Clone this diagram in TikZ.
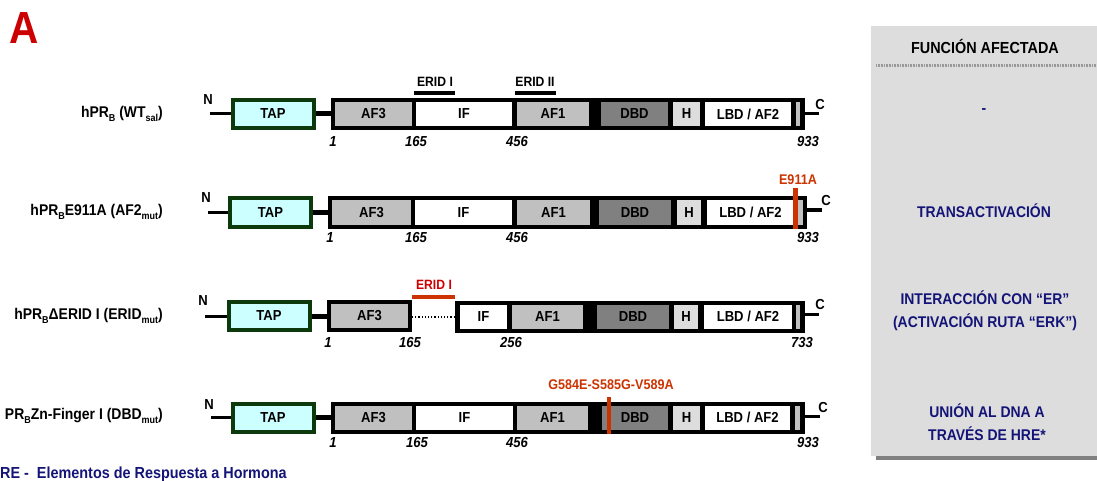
\documentclass[tikz,border=0pt]{standalone}
\usepackage{fontspec}
\setmainfont[FakeStretch=0.9]{Liberation Sans}
\definecolor{tapgreen}{HTML}{0D3A0D}
\definecolor{tapcyan}{HTML}{CCFFFF}
\definecolor{cgrey}{HTML}{C0C0C0}
\definecolor{dgrey}{HTML}{808080}
\definecolor{lgrey}{HTML}{DDDDDD}
\definecolor{mutred}{HTML}{CC3300}
\definecolor{titlered}{HTML}{CC0000}
\definecolor{navy}{HTML}{141478}
\definecolor{panel}{HTML}{DDDDDD}
\newcommand\sbs[1]{\raisebox{-0.4ex}{\fontsize{10}{10}\selectfont #1}}
\newcommand\segnode[6]{\node[segbox, fill=#5, minimum width={(#3-#2)*1pt}] (#1) at ({(#2+#3)/2},#4) {#6};}
\tikzset{
  segbox/.style={inner sep=0pt, outer sep=0pt, minimum height=24pt, font=\fontsize{14.5}{16}\selectfont\bfseries},
  barbox/.style={fill=black, inner sep=0pt, outer sep=0pt, minimum height=32pt},
  tapbox/.style={draw=tapgreen, line width=4pt, fill=tapcyan, inner sep=0pt, minimum width=81pt, minimum height=28pt, font=\fontsize{14.5}{16}\selectfont\bfseries},
  numlbl/.style={inner sep=0pt, font=\fontsize{14.5}{16}\selectfont\bfseries\itshape},
  termlbl/.style={inner sep=0pt, font=\fontsize{14.5}{16}\selectfont\bfseries},
  rowlbl/.style={inner sep=0pt, anchor=east, font=\fontsize{15.5}{17}\selectfont\bfseries},
  mutlbl/.style={inner sep=0pt, text=mutred, font=\fontsize{14}{16}\selectfont\bfseries},
  eridlbl/.style={inner sep=0pt, font=\fontsize{13.5}{15}\selectfont\bfseries},
  endline/.style={line width=3pt},
  link/.style={line width=5pt},
  mutline/.style={draw=mutred, line width=4.5pt},
  eridbar/.style={line width=3.5pt},
  paneltxt/.style={inner sep=0pt, text=navy, align=center, font=\fontsize{15.5}{22.5}\selectfont\bfseries},
}
\begin{document}
\begin{tikzpicture}[x=1pt,y=-1pt]
\useasboundingbox (0,0) rectangle (1097,481);
% title
\node[inner sep=0pt, text=titlered, font=\fontsize{45}{46}\selectfont\bfseries] (title) at (24,28) {A};

% right panel
\fill[dgrey] (876,452) rectangle (1097,460);
\node[fill=panel, inner sep=0pt, outer sep=0pt, minimum width=226pt, minimum height=430pt, anchor=north west] (panelbox) at (871,26) {};
\draw[color=gray!80, line width=2.5pt, dash pattern=on 1pt off 0.6pt] (876,65.5) -- (1097,65.5);
\node[inner sep=0pt, font=\fontsize{16}{18}\selectfont\bfseries] (head) at (985,46) {FUNCIÓN AFECTADA};
\node[paneltxt] (f1) at (984,111) {-};
\node[paneltxt] (f2) at (984,211) {TRANSACTIVACIÓN};
\node[paneltxt] (f3) at (985,310.5) {INTERACCIÓN CON “ER”\\(ACTIVACIÓN RUTA “ERK”)};
\node[paneltxt] (f4) at (987,422) {UNIÓN AL DNA A\\TRAVÉS DE HRE*};

% ===== Row 1 =====
\node[rowlbl] (lbl1) at (163,114) {hPR\sbs{B} (WT\sbs{sal})};
\node[tapbox] (tap1) at (273,114) {TAP};
\node[barbox, minimum width=474pt] (bar1) at (568,114) {};
\segnode{afthree1}{335}{412}{114}{cgrey}{AF3}
\segnode{if1}{416}{512}{114}{white}{IF}
\segnode{afone1}{517}{589}{114}{cgrey}{AF1}
\segnode{dbd1}{601}{668}{114}{dgrey}{DBD}
\segnode{h1}{673}{700}{114}{lgrey}{H}
\segnode{lbd1}{705}{791}{114}{white}{LBD / AF2}
\segnode{end1}{796}{800}{114}{cgrey}{}
\node[termlbl] (nl1) at (208,100) {N};
\coordinate (ns1) at (210,114);
\draw[endline] (ns1) -- (tap1.west);
\draw[link] (tap1.east) -- (bar1.west);
\coordinate (ce1) at (819,114);
\draw[endline] (bar1.east) -- (ce1);
\node[termlbl] (cl1) at (820,105) {C};
\node[numlbl] (n1a) at (333,142) {1};
\node[numlbl] (n1b) at (416,142) {165};
\node[numlbl] (n1c) at (517,142) {456};
\node[numlbl] (n1d) at (808,142) {933};
\node[eridlbl] (erid1) at (435,82) {ERID I};
\coordinate (e1a) at (414,93); \coordinate (e1b) at (455,93);
\draw[eridbar] (e1a) -- (e1b);
\node[eridlbl] (erid2) at (535,82) {ERID II};
\coordinate (e2a) at (515,93); \coordinate (e2b) at (556,93);
\draw[eridbar] (e2a) -- (e2b);

% ===== Row 2 =====
\node[rowlbl] (lbl2) at (163,212) {hPR\sbs{B}E911A (AF2\sbs{mut})};
\node[tapbox] (tap2) at (270.5,212.5) {TAP};
\node[barbox, minimum width=479pt] (bar2) at (567.5,212.5) {};
\segnode{afthree2}{332}{411}{212.5}{cgrey}{AF3}
\segnode{if2}{415}{512}{212.5}{white}{IF}
\segnode{afone2}{517}{590}{212.5}{cgrey}{AF1}
\segnode{dbd2}{599}{671}{212.5}{dgrey}{DBD}
\segnode{h2}{677}{701}{212.5}{lgrey}{H}
\segnode{lbd2}{707}{794}{212.5}{white}{LBD / AF2}
\segnode{end2}{797}{803}{212.5}{cgrey}{}
\node[termlbl] (nl2) at (206,198) {N};
\coordinate (ns2) at (208,212.5);
\draw[endline] (ns2) -- (tap2.west);
\draw[link] (tap2.east) -- (bar2.west);
\coordinate (ce2) at (822,210);
\draw[endline] (bar2.east |- ce2) -- (ce2);
\node[termlbl] (cl2) at (826,201) {C};
\node[numlbl] (n2a) at (330,238) {1};
\node[numlbl] (n2b) at (416,238) {165};
\node[numlbl] (n2c) at (517,238) {456};
\node[numlbl] (n2d) at (808,238) {933};
\coordinate (m2a) at (795.5,188); \coordinate (m2b) at (795.5,228.5);
\draw[mutline] (m2a) -- (m2b);
\node[mutlbl] (mut2) at (798,180) {E911A};

% ===== Row 3 =====
\node[rowlbl] (lbl3) at (163,316) {hPR\sbs{B}ΔERID I (ERID\sbs{mut})};
\node[tapbox] (tap3) at (269,316) {TAP};
\node[barbox, minimum width=85pt] (bar3a) at (369.5,316) {};
\segnode{afthree3}{331}{408}{316}{cgrey}{AF3}
\node[barbox, minimum width=350pt] (bar3b) at (630,316.5) {};
\segnode{if3}{460}{507}{316.5}{white}{IF}
\segnode{afone3}{512}{583}{316.5}{cgrey}{AF1}
\segnode{dbd3}{597}{669}{316.5}{dgrey}{DBD}
\segnode{h3}{674}{698}{316.5}{lgrey}{H}
\segnode{lbd3}{704}{792}{316.5}{white}{LBD / AF2}
\segnode{end3}{796}{800}{316.5}{cgrey}{}
\draw[line width=1.2pt, dotted] (bar3a.east |- 0,317) -- (bar3b.west |- 0,317);
\node[termlbl] (nl3) at (203,301) {N};
\coordinate (ns3) at (205,316);
\draw[endline] (ns3) -- (tap3.west);
\draw[link] (tap3.east) -- (bar3a.west);
\coordinate (ce3) at (819,314);
\draw[endline] (bar3b.east |- ce3) -- (ce3);
\node[termlbl] (cl3) at (820,305) {C};
\node[numlbl] (n3a) at (328,343) {1};
\node[numlbl] (n3b) at (410,343) {165};
\node[numlbl] (n3c) at (511,343) {256};
\node[numlbl] (n3d) at (802,343) {733};
\coordinate (e3a) at (412,297); \coordinate (e3b) at (455,297);
\draw[eridbar, draw=mutred, line width=4pt] (e3a) -- (e3b);
\node[eridlbl, text=titlered] (erid3) at (434,284.5) {ERID I};

% ===== Row 4 =====
\node[rowlbl] (lbl4) at (163,416) {PR\sbs{B}Zn-Finger I (DBD\sbs{mut})};
\node[tapbox] (tap4) at (273,417.5) {TAP};
\node[barbox, minimum width=474pt] (bar4) at (568,417.5) {};
\segnode{afthree4}{335}{412}{417.5}{cgrey}{AF3}
\segnode{if4}{416}{513}{417.5}{white}{IF}
\segnode{afone4}{517}{588}{417.5}{cgrey}{AF1}
\segnode{dbd4}{602}{668}{417.5}{dgrey}{DBD}
\segnode{h4}{673}{700}{417.5}{lgrey}{H}
\segnode{lbd4}{705}{790}{417.5}{white}{LBD / AF2}
\segnode{end4}{795}{800}{417.5}{cgrey}{}
\node[termlbl] (nl4) at (209,405) {N};
\coordinate (ns4) at (211,417.5);
\draw[endline] (ns4) -- (tap4.west);
\draw[link] (tap4.east) -- (bar4.west);
\coordinate (ce4) at (820,416);
\draw[endline] (bar4.east |- ce4) -- (ce4);
\node[termlbl] (cl4) at (823,408) {C};
\node[numlbl] (n4a) at (333,443) {1};
\node[numlbl] (n4b) at (417,443) {165};
\node[numlbl] (n4c) at (517,443) {456};
\node[numlbl] (n4d) at (808,443) {933};
\coordinate (m4a) at (609,397); \coordinate (m4b) at (609,434);
\draw[mutline] (m4a) -- (m4b);
\node[mutlbl] (mut4) at (611,385) {G584E-S585G-V589A};

% footnote
\node[inner sep=0pt, anchor=west, text=navy, font=\fontsize{16}{18}\selectfont\bfseries] (foot) at (0,474) {RE -\ \ Elementos de Respuesta a Hormona};
\end{tikzpicture}
\end{document}
